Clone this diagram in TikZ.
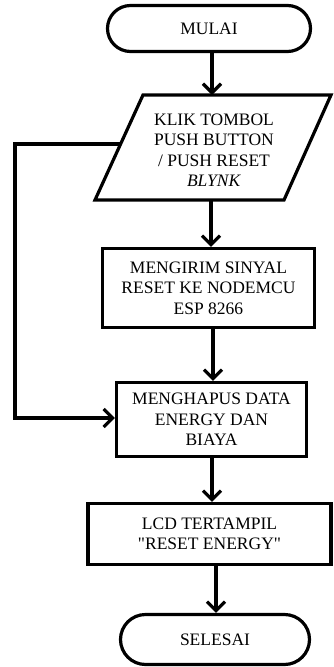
\documentclass[tikz,border=0pt]{standalone}
\usepackage{fontspec}
\setmainfont{Liberation Serif}
\usetikzlibrary{arrows.meta,calc}
\begin{document}
\begin{tikzpicture}[x=1pt,y=-1pt,
  every node/.style={font=\fontsize{17.5}{20.5}\selectfont, align=center, inner sep=0pt},
  lw/.style={line width=3.2pt},
  term/.style={lw, draw, rounded corners=23pt},
  procbox/.style={lw, draw},
  arr/.style={lw, -{Straight Barb[length=9pt,width=18pt,line width=3.2pt]}},
  link/.style={lw}]
\useasboundingbox (0,0) rectangle (333,667);
% terminals
\node[term, minimum width=203pt, minimum height=46pt] (start) at (209,28.5) {MULAI};
% input parallelogram
\coordinate (ptl) at (143,95);
\coordinate (ptr) at (331,95);
\coordinate (pbr) at (284,200);
\coordinate (pbl) at (95,200);
\draw[lw, line join=miter] (ptl) -- (ptr) -- (pbr) -- (pbl) -- cycle;
\node (para) at (214,150) {KLIK TOMBOL\\PUSH BUTTON\\/ PUSH RESET\\\textit{BLYNK}};
\coordinate (ptop) at (212,95);
\coordinate (pbot) at (211,200);
\coordinate (pleft) at (120.6,144);
% process boxes
\node[procbox, minimum width=212pt, minimum height=79pt] (send) at (208.5,288) {MENGIRIM SINYAL\\RESET KE NODEMCU\\ESP 8266};
\node[procbox, minimum width=190pt, minimum height=74pt] (erase) at (211.5,419.5) {MENGHAPUS DATA\\ENERGY DAN\\BIAYA};
\node[procbox, minimum width=243pt, minimum height=61pt] (lcd) at (209.5,534) {LCD TERTAMPIL\\\textquotedbl RESET ENERGY\textquotedbl};
\node[term, minimum width=189pt, minimum height=50pt, rounded corners=25pt] (stop) at (215,639.5) {SELESAI};
% connectors
\draw[arr] (start.south -| ptop) -- (ptop);
\draw[arr] (pbot) -- (pbot |- send.north);
\draw[arr] (send.south -| 213,0) -- (213,0 |- erase.north);
\draw[arr] (erase.south -| 212,0) -- (212,0 |- lcd.north);
\draw[arr] (lcd.south -| 216,0) -- (216,0 |- stop.north);
\coordinate (lc1) at (15,144);
\coordinate (lc2) at (15,418);
\draw[arr, line join=miter] (pleft) -- (lc1) -- (lc2) -- (lc2 -| erase.west);
\end{tikzpicture}
\end{document}
